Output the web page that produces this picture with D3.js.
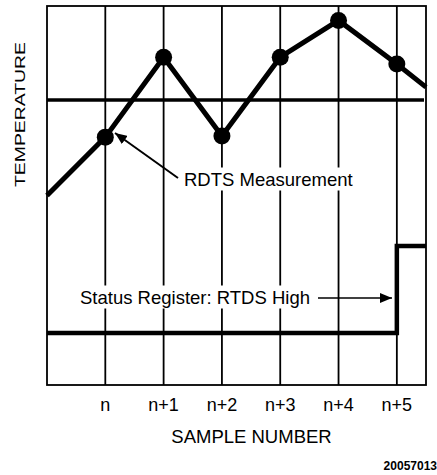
<!DOCTYPE html>
<html>
<head>
<meta charset="utf-8">
<script src="https://cdn.jsdelivr.net/npm/d3@7"></script>
<style>
  html, body { margin: 0; padding: 0; background: #fff; }
  svg { display: block; }
  text { font-family: "Liberation Sans", Arial, sans-serif; fill: #000; }
</style>
</head>
<body>
<svg id="chart" width="437" height="475"></svg>
<script>
// ---- data ----
const sampleLabels = ["n", "n+1", "n+2", "n+3", "n+4", "n+5"];
const sampleIndex = [0, 1, 2, 3, 4, 5];
// temperature trace (index -1 = left edge, 5.5 = right edge)
const tempX = [-1, 0, 1, 2, 3, 4, 5, 5.5];
const tempY = [50, 65.4, 86.5, 65.7, 86.5, 96.2, 84.7, 78.6];
const measuredIdx = [0, 1, 2, 3, 4, 5];
const thresholdValue = 75.2;
// status register (low / high levels), steps high at n+5
const statusX = [-1, 5, 5, 5.5];
const statusY = [13.7, 13.7, 36.7, 36.7];
const xLabel = "SAMPLE NUMBER";
const yLabel = "TEMPERATURE";
const figId = "20057013";

// ---- layout ----
const svg = d3.select("#chart");
const x = d3.scaleLinear().domain([-1, 5.5]).range([47, 426]);
const y = d3.scaleLinear().domain([0, 100]).range([385, 6]);

const defs = svg.append("defs");
defs.append("marker")
  .attr("id", "ah").attr("viewBox", "0 0 12 10")
  .attr("refX", 12).attr("refY", 5)
  .attr("markerWidth", 12).attr("markerHeight", 10)
  .attr("markerUnits", "userSpaceOnUse")
  .attr("orient", "auto")
  .append("path").attr("d", "M0,0 L12,5 L0,10 Z").attr("fill", "#000");

// vertical grid lines
svg.append("g").selectAll("line").data(sampleIndex).join("line")
  .attr("x1", d => x(d)).attr("x2", d => x(d))
  .attr("y1", y(100)).attr("y2", y(0))
  .attr("stroke", "#000").attr("stroke-width", 1.8);

// frame
svg.append("rect")
  .attr("x", x(-1)).attr("y", y(100))
  .attr("width", x(5.5) - x(-1)).attr("height", y(0) - y(100))
  .attr("fill", "none").attr("stroke", "#000").attr("stroke-width", 1.8);

// threshold
svg.append("line")
  .attr("x1", x(-1)).attr("x2", x(5.5) - 2)
  .attr("y1", y(thresholdValue)).attr("y2", y(thresholdValue))
  .attr("stroke", "#000").attr("stroke-width", 3.5);

// text backgrounds + labels
function label(txt, tx, ty) {
  const g = svg.append("g");
  const t = g.append("text").attr("x", tx).attr("y", ty)
    .attr("font-size", 18.5).text(txt);
  const b = t.node().getBBox();
  g.insert("rect", "text")
    .attr("x", b.x - 2).attr("y", b.y - 1)
    .attr("width", b.width + 4).attr("height", b.height + 2)
    .attr("fill", "#fff");
  return b;
}
label("RDTS Measurement", 184, 185.5);
label("Status Register: RTDS High", 80, 303.5);

// temperature line
const line = d3.line().x((d, i) => x(tempX[i])).y(d => y(d));
svg.append("path").datum(tempY)
  .attr("d", line).attr("fill", "none")
  .attr("stroke", "#000").attr("stroke-width", 5).attr("stroke-linejoin", "miter");

// measurement dots
svg.append("g").selectAll("circle").data(measuredIdx).join("circle")
  .attr("cx", d => x(tempX[d + 1])).attr("cy", d => y(tempY[d + 1]))
  .attr("r", 8.5).attr("fill", "#000");

// status register
const sline = d3.line().x((d, i) => x(statusX[i])).y(d => y(d));
svg.append("path").datum(statusY)
  .attr("d", sline).attr("fill", "none")
  .attr("stroke", "#000").attr("stroke-width", 4.5).attr("stroke-linejoin", "miter");

// arrows
svg.append("line")
  .attr("x1", 178).attr("y1", 178).attr("x2", 115).attr("y2", 133)
  .attr("stroke", "#000").attr("stroke-width", 2).attr("marker-end", "url(#ah)");
svg.append("line")
  .attr("x1", 318).attr("y1", 298).attr("x2", 392).attr("y2", 298)
  .attr("stroke", "#000").attr("stroke-width", 1.5).attr("marker-end", "url(#ah)");

// x tick labels
svg.append("g").selectAll("text").data(sampleIndex).join("text")
  .attr("x", d => x(d)).attr("y", 411)
  .attr("text-anchor", "middle").attr("font-size", 18)
  .text(d => sampleLabels[d]);

// axis titles
svg.append("text").attr("x", 251.5).attr("y", 443)
  .attr("text-anchor", "middle").attr("font-size", 18.5).text(xLabel);
svg.append("text")
  .attr("transform", "translate(25,114.5) rotate(-90)")
  .attr("text-anchor", "middle").attr("font-size", 15)
  .attr("textLength", 145).attr("lengthAdjust", "spacingAndGlyphs")
  .text(yLabel);

svg.append("text").attr("x", 437).attr("y", 470)
  .attr("text-anchor", "end").attr("font-size", 12).attr("font-weight", "bold")
  .text(figId);
</script>
</body>
</html>
